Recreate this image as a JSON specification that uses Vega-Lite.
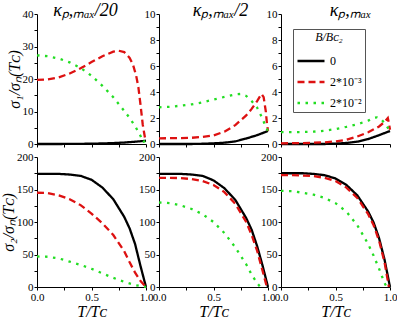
{
  "$schema": "https://vega.github.io/schema/vega-lite/v6.json",
  "background": "white",
  "padding": {"left": 0, "top": 2, "right": 0, "bottom": 0},
  "bounds": "flush",
  "spacing": {"row": 13, "column": 13},
  "columns": 3,
  "data": {
    "values": [
      {"p": "t1", "B": "0", "T": 0, "v": 0}, {"p": "t1", "B": "0", "T": 0.2, "v": 0}, {"p": "t1", "B": "0", "T": 0.3, "v": 0.02}, {"p": "t1", "B": "0", "T": 0.4, "v": 0.05}, {"p": "t1", "B": "0", "T": 0.5, "v": 0.1}, {"p": "t1", "B": "0", "T": 0.6, "v": 0.17}, {"p": "t1", "B": "0", "T": 0.7, "v": 0.28}, {"p": "t1", "B": "0", "T": 0.8, "v": 0.45}, {"p": "t1", "B": "0", "T": 0.9, "v": 0.7}, {"p": "t1", "B": "0", "T": 1, "v": 1},
      {"p": "t1", "B": "2*10⁻³", "T": 0, "v": 19.7}, {"p": "t1", "B": "2*10⁻³", "T": 0.1, "v": 19.9}, {"p": "t1", "B": "2*10⁻³", "T": 0.2, "v": 20.5}, {"p": "t1", "B": "2*10⁻³", "T": 0.3, "v": 21.7}, {"p": "t1", "B": "2*10⁻³", "T": 0.4, "v": 23.3}, {"p": "t1", "B": "2*10⁻³", "T": 0.5, "v": 25.2}, {"p": "t1", "B": "2*10⁻³", "T": 0.6, "v": 27}, {"p": "t1", "B": "2*10⁻³", "T": 0.7, "v": 28.4}, {"p": "t1", "B": "2*10⁻³", "T": 0.75, "v": 28.7}, {"p": "t1", "B": "2*10⁻³", "T": 0.8, "v": 28.3}, {"p": "t1", "B": "2*10⁻³", "T": 0.85, "v": 26.5}, {"p": "t1", "B": "2*10⁻³", "T": 0.88, "v": 24.5}, {"p": "t1", "B": "2*10⁻³", "T": 0.91, "v": 21}, {"p": "t1", "B": "2*10⁻³", "T": 0.93, "v": 17.5}, {"p": "t1", "B": "2*10⁻³", "T": 0.95, "v": 12}, {"p": "t1", "B": "2*10⁻³", "T": 0.97, "v": 6}, {"p": "t1", "B": "2*10⁻³", "T": 0.99, "v": 2}, {"p": "t1", "B": "2*10⁻³", "T": 1, "v": 1},
      {"p": "t1", "B": "2*10⁻²", "T": 0, "v": 27.3}, {"p": "t1", "B": "2*10⁻²", "T": 0.1, "v": 27}, {"p": "t1", "B": "2*10⁻²", "T": 0.2, "v": 26.3}, {"p": "t1", "B": "2*10⁻²", "T": 0.3, "v": 25.1}, {"p": "t1", "B": "2*10⁻²", "T": 0.4, "v": 23.4}, {"p": "t1", "B": "2*10⁻²", "T": 0.5, "v": 21}, {"p": "t1", "B": "2*10⁻²", "T": 0.6, "v": 17.9}, {"p": "t1", "B": "2*10⁻²", "T": 0.7, "v": 14.4}, {"p": "t1", "B": "2*10⁻²", "T": 0.8, "v": 10.2}, {"p": "t1", "B": "2*10⁻²", "T": 0.85, "v": 8}, {"p": "t1", "B": "2*10⁻²", "T": 0.9, "v": 5.5}, {"p": "t1", "B": "2*10⁻²", "T": 0.95, "v": 2.5}, {"p": "t1", "B": "2*10⁻²", "T": 0.97, "v": 0.6}, {"p": "t1", "B": "2*10⁻²", "T": 1, "v": 1},

      {"p": "t2", "B": "0", "T": 0, "v": 0}, {"p": "t2", "B": "0", "T": 0.3, "v": 0}, {"p": "t2", "B": "0", "T": 0.4, "v": 0.02}, {"p": "t2", "B": "0", "T": 0.5, "v": 0.05}, {"p": "t2", "B": "0", "T": 0.6, "v": 0.1}, {"p": "t2", "B": "0", "T": 0.7, "v": 0.2}, {"p": "t2", "B": "0", "T": 0.8, "v": 0.42}, {"p": "t2", "B": "0", "T": 0.9, "v": 0.68}, {"p": "t2", "B": "0", "T": 1, "v": 1},
      {"p": "t2", "B": "2*10⁻³", "T": 0, "v": 0.44}, {"p": "t2", "B": "2*10⁻³", "T": 0.2, "v": 0.45}, {"p": "t2", "B": "2*10⁻³", "T": 0.3, "v": 0.48}, {"p": "t2", "B": "2*10⁻³", "T": 0.4, "v": 0.55}, {"p": "t2", "B": "2*10⁻³", "T": 0.5, "v": 0.66}, {"p": "t2", "B": "2*10⁻³", "T": 0.6, "v": 0.95}, {"p": "t2", "B": "2*10⁻³", "T": 0.7, "v": 1.45}, {"p": "t2", "B": "2*10⁻³", "T": 0.8, "v": 2.2}, {"p": "t2", "B": "2*10⁻³", "T": 0.85, "v": 2.7}, {"p": "t2", "B": "2*10⁻³", "T": 0.9, "v": 3.3}, {"p": "t2", "B": "2*10⁻³", "T": 0.94, "v": 3.85}, {"p": "t2", "B": "2*10⁻³", "T": 0.96, "v": 3.6}, {"p": "t2", "B": "2*10⁻³", "T": 0.98, "v": 2.5}, {"p": "t2", "B": "2*10⁻³", "T": 0.99, "v": 1.6}, {"p": "t2", "B": "2*10⁻³", "T": 1, "v": 1},
      {"p": "t2", "B": "2*10⁻²", "T": 0, "v": 2.82}, {"p": "t2", "B": "2*10⁻²", "T": 0.1, "v": 2.86}, {"p": "t2", "B": "2*10⁻²", "T": 0.2, "v": 2.95}, {"p": "t2", "B": "2*10⁻²", "T": 0.3, "v": 3.05}, {"p": "t2", "B": "2*10⁻²", "T": 0.4, "v": 3.2}, {"p": "t2", "B": "2*10⁻²", "T": 0.5, "v": 3.42}, {"p": "t2", "B": "2*10⁻²", "T": 0.6, "v": 3.62}, {"p": "t2", "B": "2*10⁻²", "T": 0.7, "v": 3.82}, {"p": "t2", "B": "2*10⁻²", "T": 0.75, "v": 3.85}, {"p": "t2", "B": "2*10⁻²", "T": 0.8, "v": 3.7}, {"p": "t2", "B": "2*10⁻²", "T": 0.85, "v": 3.3}, {"p": "t2", "B": "2*10⁻²", "T": 0.9, "v": 2.8}, {"p": "t2", "B": "2*10⁻²", "T": 0.95, "v": 1.95}, {"p": "t2", "B": "2*10⁻²", "T": 0.98, "v": 1.3}, {"p": "t2", "B": "2*10⁻²", "T": 1, "v": 1},

      {"p": "t3", "B": "0", "T": 0, "v": 0}, {"p": "t3", "B": "0", "T": 0.4, "v": 0}, {"p": "t3", "B": "0", "T": 0.5, "v": 0.03}, {"p": "t3", "B": "0", "T": 0.6, "v": 0.08}, {"p": "t3", "B": "0", "T": 0.7, "v": 0.18}, {"p": "t3", "B": "0", "T": 0.8, "v": 0.38}, {"p": "t3", "B": "0", "T": 0.9, "v": 0.68}, {"p": "t3", "B": "0", "T": 1, "v": 1},
      {"p": "t3", "B": "2*10⁻³", "T": 0, "v": 0.05}, {"p": "t3", "B": "2*10⁻³", "T": 0.2, "v": 0.07}, {"p": "t3", "B": "2*10⁻³", "T": 0.4, "v": 0.13}, {"p": "t3", "B": "2*10⁻³", "T": 0.5, "v": 0.2}, {"p": "t3", "B": "2*10⁻³", "T": 0.6, "v": 0.32}, {"p": "t3", "B": "2*10⁻³", "T": 0.7, "v": 0.58}, {"p": "t3", "B": "2*10⁻³", "T": 0.8, "v": 0.9}, {"p": "t3", "B": "2*10⁻³", "T": 0.9, "v": 1.35}, {"p": "t3", "B": "2*10⁻³", "T": 0.95, "v": 1.7}, {"p": "t3", "B": "2*10⁻³", "T": 0.98, "v": 2}, {"p": "t3", "B": "2*10⁻³", "T": 0.99, "v": 1.6}, {"p": "t3", "B": "2*10⁻³", "T": 1, "v": 1.1},
      {"p": "t3", "B": "2*10⁻²", "T": 0, "v": 0.92}, {"p": "t3", "B": "2*10⁻²", "T": 0.2, "v": 0.92}, {"p": "t3", "B": "2*10⁻²", "T": 0.3, "v": 0.95}, {"p": "t3", "B": "2*10⁻²", "T": 0.4, "v": 1.02}, {"p": "t3", "B": "2*10⁻²", "T": 0.5, "v": 1.15}, {"p": "t3", "B": "2*10⁻²", "T": 0.6, "v": 1.32}, {"p": "t3", "B": "2*10⁻²", "T": 0.7, "v": 1.52}, {"p": "t3", "B": "2*10⁻²", "T": 0.8, "v": 1.8}, {"p": "t3", "B": "2*10⁻²", "T": 0.85, "v": 2.02}, {"p": "t3", "B": "2*10⁻²", "T": 0.88, "v": 2.05}, {"p": "t3", "B": "2*10⁻²", "T": 0.92, "v": 1.9}, {"p": "t3", "B": "2*10⁻²", "T": 0.96, "v": 1.5}, {"p": "t3", "B": "2*10⁻²", "T": 1, "v": 1},

      {"p": "b1", "B": "0", "T": 0, "v": 174}, {"p": "b1", "B": "0", "T": 0.1, "v": 174}, {"p": "b1", "B": "0", "T": 0.2, "v": 174}, {"p": "b1", "B": "0", "T": 0.3, "v": 173}, {"p": "b1", "B": "0", "T": 0.4, "v": 171}, {"p": "b1", "B": "0", "T": 0.5, "v": 165}, {"p": "b1", "B": "0", "T": 0.6, "v": 153}, {"p": "b1", "B": "0", "T": 0.7, "v": 135}, {"p": "b1", "B": "0", "T": 0.8, "v": 108}, {"p": "b1", "B": "0", "T": 0.85, "v": 90}, {"p": "b1", "B": "0", "T": 0.9, "v": 66}, {"p": "b1", "B": "0", "T": 0.95, "v": 32}, {"p": "b1", "B": "0", "T": 1, "v": 0},
      {"p": "b1", "B": "2*10⁻³", "T": 0, "v": 145}, {"p": "b1", "B": "2*10⁻³", "T": 0.1, "v": 144.5}, {"p": "b1", "B": "2*10⁻³", "T": 0.2, "v": 141}, {"p": "b1", "B": "2*10⁻³", "T": 0.3, "v": 135}, {"p": "b1", "B": "2*10⁻³", "T": 0.4, "v": 126}, {"p": "b1", "B": "2*10⁻³", "T": 0.5, "v": 113}, {"p": "b1", "B": "2*10⁻³", "T": 0.6, "v": 98}, {"p": "b1", "B": "2*10⁻³", "T": 0.7, "v": 80}, {"p": "b1", "B": "2*10⁻³", "T": 0.8, "v": 55}, {"p": "b1", "B": "2*10⁻³", "T": 0.85, "v": 38}, {"p": "b1", "B": "2*10⁻³", "T": 0.9, "v": 22}, {"p": "b1", "B": "2*10⁻³", "T": 0.95, "v": 9}, {"p": "b1", "B": "2*10⁻³", "T": 1, "v": 0},
      {"p": "b1", "B": "2*10⁻²", "T": 0, "v": 47}, {"p": "b1", "B": "2*10⁻²", "T": 0.1, "v": 46.5}, {"p": "b1", "B": "2*10⁻²", "T": 0.2, "v": 44}, {"p": "b1", "B": "2*10⁻²", "T": 0.3, "v": 39}, {"p": "b1", "B": "2*10⁻²", "T": 0.4, "v": 34}, {"p": "b1", "B": "2*10⁻²", "T": 0.5, "v": 28}, {"p": "b1", "B": "2*10⁻²", "T": 0.6, "v": 21}, {"p": "b1", "B": "2*10⁻²", "T": 0.7, "v": 14}, {"p": "b1", "B": "2*10⁻²", "T": 0.8, "v": 8}, {"p": "b1", "B": "2*10⁻²", "T": 0.9, "v": 3}, {"p": "b1", "B": "2*10⁻²", "T": 1, "v": 0},

      {"p": "b2", "B": "0", "T": 0, "v": 174}, {"p": "b2", "B": "0", "T": 0.1, "v": 174}, {"p": "b2", "B": "0", "T": 0.2, "v": 174}, {"p": "b2", "B": "0", "T": 0.3, "v": 173}, {"p": "b2", "B": "0", "T": 0.4, "v": 171}, {"p": "b2", "B": "0", "T": 0.5, "v": 164}, {"p": "b2", "B": "0", "T": 0.6, "v": 152}, {"p": "b2", "B": "0", "T": 0.7, "v": 134}, {"p": "b2", "B": "0", "T": 0.8, "v": 106}, {"p": "b2", "B": "0", "T": 0.85, "v": 88}, {"p": "b2", "B": "0", "T": 0.9, "v": 63}, {"p": "b2", "B": "0", "T": 0.95, "v": 33}, {"p": "b2", "B": "0", "T": 1, "v": 0},
      {"p": "b2", "B": "2*10⁻³", "T": 0, "v": 168}, {"p": "b2", "B": "2*10⁻³", "T": 0.1, "v": 168}, {"p": "b2", "B": "2*10⁻³", "T": 0.2, "v": 167.5}, {"p": "b2", "B": "2*10⁻³", "T": 0.3, "v": 166}, {"p": "b2", "B": "2*10⁻³", "T": 0.4, "v": 163}, {"p": "b2", "B": "2*10⁻³", "T": 0.5, "v": 157}, {"p": "b2", "B": "2*10⁻³", "T": 0.6, "v": 146}, {"p": "b2", "B": "2*10⁻³", "T": 0.7, "v": 128}, {"p": "b2", "B": "2*10⁻³", "T": 0.8, "v": 100}, {"p": "b2", "B": "2*10⁻³", "T": 0.85, "v": 80}, {"p": "b2", "B": "2*10⁻³", "T": 0.9, "v": 56}, {"p": "b2", "B": "2*10⁻³", "T": 0.95, "v": 25}, {"p": "b2", "B": "2*10⁻³", "T": 0.99, "v": 0},
      {"p": "b2", "B": "2*10⁻²", "T": 0, "v": 130}, {"p": "b2", "B": "2*10⁻²", "T": 0.1, "v": 129}, {"p": "b2", "B": "2*10⁻²", "T": 0.2, "v": 125.5}, {"p": "b2", "B": "2*10⁻²", "T": 0.3, "v": 120}, {"p": "b2", "B": "2*10⁻²", "T": 0.4, "v": 112}, {"p": "b2", "B": "2*10⁻²", "T": 0.5, "v": 100}, {"p": "b2", "B": "2*10⁻²", "T": 0.6, "v": 83}, {"p": "b2", "B": "2*10⁻²", "T": 0.7, "v": 61}, {"p": "b2", "B": "2*10⁻²", "T": 0.8, "v": 35}, {"p": "b2", "B": "2*10⁻²", "T": 0.85, "v": 19}, {"p": "b2", "B": "2*10⁻²", "T": 0.9, "v": 6}, {"p": "b2", "B": "2*10⁻²", "T": 0.93, "v": 0},

      {"p": "b3", "B": "0", "T": 0, "v": 175}, {"p": "b3", "B": "0", "T": 0.1, "v": 175}, {"p": "b3", "B": "0", "T": 0.2, "v": 175}, {"p": "b3", "B": "0", "T": 0.3, "v": 174}, {"p": "b3", "B": "0", "T": 0.4, "v": 172}, {"p": "b3", "B": "0", "T": 0.5, "v": 167}, {"p": "b3", "B": "0", "T": 0.6, "v": 157}, {"p": "b3", "B": "0", "T": 0.7, "v": 141}, {"p": "b3", "B": "0", "T": 0.8, "v": 116}, {"p": "b3", "B": "0", "T": 0.85, "v": 99}, {"p": "b3", "B": "0", "T": 0.9, "v": 75}, {"p": "b3", "B": "0", "T": 0.95, "v": 42}, {"p": "b3", "B": "0", "T": 1, "v": 0},
      {"p": "b3", "B": "2*10⁻³", "T": 0, "v": 172}, {"p": "b3", "B": "2*10⁻³", "T": 0.1, "v": 172}, {"p": "b3", "B": "2*10⁻³", "T": 0.2, "v": 171.5}, {"p": "b3", "B": "2*10⁻³", "T": 0.3, "v": 170.5}, {"p": "b3", "B": "2*10⁻³", "T": 0.4, "v": 168}, {"p": "b3", "B": "2*10⁻³", "T": 0.5, "v": 163}, {"p": "b3", "B": "2*10⁻³", "T": 0.6, "v": 153}, {"p": "b3", "B": "2*10⁻³", "T": 0.7, "v": 137}, {"p": "b3", "B": "2*10⁻³", "T": 0.8, "v": 112}, {"p": "b3", "B": "2*10⁻³", "T": 0.85, "v": 95}, {"p": "b3", "B": "2*10⁻³", "T": 0.9, "v": 71}, {"p": "b3", "B": "2*10⁻³", "T": 0.95, "v": 38}, {"p": "b3", "B": "2*10⁻³", "T": 0.99, "v": 0},
      {"p": "b3", "B": "2*10⁻²", "T": 0, "v": 148}, {"p": "b3", "B": "2*10⁻²", "T": 0.1, "v": 147.5}, {"p": "b3", "B": "2*10⁻²", "T": 0.2, "v": 145}, {"p": "b3", "B": "2*10⁻²", "T": 0.3, "v": 142}, {"p": "b3", "B": "2*10⁻²", "T": 0.4, "v": 137}, {"p": "b3", "B": "2*10⁻²", "T": 0.5, "v": 129}, {"p": "b3", "B": "2*10⁻²", "T": 0.6, "v": 116}, {"p": "b3", "B": "2*10⁻²", "T": 0.7, "v": 95}, {"p": "b3", "B": "2*10⁻²", "T": 0.8, "v": 66}, {"p": "b3", "B": "2*10⁻²", "T": 0.85, "v": 48}, {"p": "b3", "B": "2*10⁻²", "T": 0.9, "v": 28}, {"p": "b3", "B": "2*10⁻²", "T": 0.95, "v": 6}, {"p": "b3", "B": "2*10⁻²", "T": 0.97, "v": 0}
    ]
  },
  "resolve": {"scale": {"color": "shared", "strokeDash": "shared"}},
  "config": {
    "view": {"stroke": null},
    "font": "Liberation Serif, Times New Roman, serif",
    "axis": {
      "grid": false, "domainColor": "black", "tickColor": "black", "labelColor": "black",
      "labelFont": "Liberation Serif, Times New Roman, serif", "labelFontSize": 11, "tickSize": 3, "labelPadding": 1,
      "titleFont": "Liberation Serif, Times New Roman, serif", "titleFontSize": 16, "titleFontStyle": "italic",
      "titleFontWeight": "normal", "titleColor": "black"
    },
    "axisX": {"format": ".1f", "labelFlush": false, "titlePadding": 1},
    "axisY": {"titlePadding": 0},
    "title": {"font": "Liberation Serif, Times New Roman, serif", "fontSize": 18, "fontStyle": "italic", "fontWeight": "normal", "color": "black", "offset": -12},
    "line": {"strokeWidth": 2.3, "strokeCap": "butt"},
    "legend": {
      "orient": "none", "legendX": 256, "legendY": 15, "fillColor": "white", "strokeColor": "#555",
      "padding": 3, "titleFont": "Liberation Serif, Times New Roman, serif", "titleFontStyle": "italic", "titleFontWeight": "normal",
      "titleFontSize": 12, "titleColor": "black", "titleAnchor": "middle", "titlePadding": 2, "labelFont": "Liberation Serif, Times New Roman, serif",
      "labelFontSize": 12, "labelColor": "black", "symbolType": "stroke", "symbolSize": 729,
      "symbolStrokeWidth": 2.3, "rowPadding": -10, "labelOffset": 4
    }
  },
  "concat": [
    {
      "width": 109, "height": 130,
      "title": {"text": "κₚ,ₘₐₓ/20", "dx": -6},
      "transform": [{"filter": "datum.p === 't1'"}],
      "mark": {"type": "line"},
      "encoding": {
        "x": {"field": "T", "type": "quantitative", "scale": {"domain": [0, 1]}, "axis": {"values": [0, 0.25, 0.5, 0.75, 1], "labels": false, "title": null}},
        "y": {"field": "v", "type": "quantitative", "scale": {"domain": [0, 40]}, "axis": {"values": [0, 5, 10, 15, 20, 25, 30, 35, 40], "labelExpr": "datum.value % 10 === 0 ? datum.label : ''", "title": "σ₁/σₙ(Tᴄ)"}},
        "color": {"field": "B", "type": "nominal", "title": "B/Bᴄ₂", "scale": {"domain": ["0", "2*10⁻³", "2*10⁻²"], "range": ["#000000", "#dd1111", "#22dd22"]}},
        "strokeDash": {"field": "B", "type": "nominal", "title": "B/Bᴄ₂", "scale": {"domain": ["0", "2*10⁻³", "2*10⁻²"], "range": [[1, 0], [7, 4], [2.5, 5.5]]}}
      }
    },
    {
      "width": 109, "height": 130,
      "title": {"text": "κₚ,ₘₐₓ/2", "dx": 7},
      "transform": [{"filter": "datum.p === 't2'"}],
      "mark": {"type": "line"},
      "encoding": {
        "x": {"field": "T", "type": "quantitative", "scale": {"domain": [0, 1]}, "axis": {"values": [0, 0.25, 0.5, 0.75, 1], "labels": false, "title": null}},
        "y": {"field": "v", "type": "quantitative", "scale": {"domain": [0, 10]}, "axis": {"values": [0, 1, 2, 3, 4, 5, 6, 7, 8, 9, 10], "labelExpr": "datum.value % 2 === 0 ? datum.label : ''", "title": null}},
        "color": {"field": "B", "type": "nominal", "title": "B/Bᴄ₂", "scale": {"domain": ["0", "2*10⁻³", "2*10⁻²"], "range": ["#000000", "#dd1111", "#22dd22"]}},
        "strokeDash": {"field": "B", "type": "nominal", "title": "B/Bᴄ₂", "scale": {"domain": ["0", "2*10⁻³", "2*10⁻²"], "range": [[1, 0], [7, 4], [2.5, 5.5]]}}
      }
    },
    {
      "width": 109, "height": 130,
      "title": {"text": "κₚ,ₘₐₓ", "dx": 15},
      "transform": [{"filter": "datum.p === 't3'"}],
      "mark": {"type": "line"},
      "encoding": {
        "x": {"field": "T", "type": "quantitative", "scale": {"domain": [0, 1]}, "axis": {"values": [0, 0.25, 0.5, 0.75, 1], "labels": false, "title": null}},
        "y": {"field": "v", "type": "quantitative", "scale": {"domain": [0, 10]}, "axis": {"values": [0, 1, 2, 3, 4, 5, 6, 7, 8, 9, 10], "labelExpr": "datum.value % 2 === 0 ? datum.label : ''", "title": null}},
        "color": {"field": "B", "type": "nominal", "title": "B/Bᴄ₂", "scale": {"domain": ["0", "2*10⁻³", "2*10⁻²"], "range": ["#000000", "#dd1111", "#22dd22"]}},
        "strokeDash": {"field": "B", "type": "nominal", "title": "B/Bᴄ₂", "scale": {"domain": ["0", "2*10⁻³", "2*10⁻²"], "range": [[1, 0], [7, 4], [2.5, 5.5]]}}
      }
    },
    {
      "width": 109, "height": 130,
      "transform": [{"filter": "datum.p === 'b1'"}],
      "mark": {"type": "line"},
      "encoding": {
        "x": {"field": "T", "type": "quantitative", "scale": {"domain": [0, 1]}, "axis": {"values": [0, 0.25, 0.5, 0.75, 1], "labelExpr": "datum.value === 0.25 || datum.value === 0.75 ? '' : datum.label", "title": "T/Tᴄ"}},
        "y": {"field": "v", "type": "quantitative", "scale": {"domain": [0, 200]}, "axis": {"values": [0, 25, 50, 75, 100, 125, 150, 175, 200], "labelExpr": "datum.value % 50 === 0 ? datum.label : ''", "title": "σ₂/σₙ(Tᴄ)"}},
        "color": {"field": "B", "type": "nominal", "title": "B/Bᴄ₂", "scale": {"domain": ["0", "2*10⁻³", "2*10⁻²"], "range": ["#000000", "#dd1111", "#22dd22"]}},
        "strokeDash": {"field": "B", "type": "nominal", "title": "B/Bᴄ₂", "scale": {"domain": ["0", "2*10⁻³", "2*10⁻²"], "range": [[1, 0], [7, 4], [2.5, 5.5]]}}
      }
    },
    {
      "width": 109, "height": 130,
      "transform": [{"filter": "datum.p === 'b2'"}],
      "mark": {"type": "line"},
      "encoding": {
        "x": {"field": "T", "type": "quantitative", "scale": {"domain": [0, 1]}, "axis": {"values": [0, 0.25, 0.5, 0.75, 1], "labelExpr": "datum.value === 0.25 || datum.value === 0.75 ? '' : datum.label", "title": "T/Tᴄ"}},
        "y": {"field": "v", "type": "quantitative", "scale": {"domain": [0, 200]}, "axis": {"values": [0, 25, 50, 75, 100, 125, 150, 175, 200], "labelExpr": "datum.value % 50 === 0 ? datum.label : ''", "title": null}},
        "color": {"field": "B", "type": "nominal", "title": "B/Bᴄ₂", "scale": {"domain": ["0", "2*10⁻³", "2*10⁻²"], "range": ["#000000", "#dd1111", "#22dd22"]}},
        "strokeDash": {"field": "B", "type": "nominal", "title": "B/Bᴄ₂", "scale": {"domain": ["0", "2*10⁻³", "2*10⁻²"], "range": [[1, 0], [7, 4], [2.5, 5.5]]}}
      }
    },
    {
      "width": 109, "height": 130,
      "transform": [{"filter": "datum.p === 'b3'"}],
      "mark": {"type": "line"},
      "encoding": {
        "x": {"field": "T", "type": "quantitative", "scale": {"domain": [0, 1]}, "axis": {"values": [0, 0.25, 0.5, 0.75, 1], "labelExpr": "datum.value === 0.25 || datum.value === 0.75 ? '' : datum.label", "title": "T/Tᴄ"}},
        "y": {"field": "v", "type": "quantitative", "scale": {"domain": [0, 200]}, "axis": {"values": [0, 25, 50, 75, 100, 125, 150, 175, 200], "labelExpr": "datum.value % 50 === 0 ? datum.label : ''", "title": null}},
        "color": {"field": "B", "type": "nominal", "title": "B/Bᴄ₂", "scale": {"domain": ["0", "2*10⁻³", "2*10⁻²"], "range": ["#000000", "#dd1111", "#22dd22"]}},
        "strokeDash": {"field": "B", "type": "nominal", "title": "B/Bᴄ₂", "scale": {"domain": ["0", "2*10⁻³", "2*10⁻²"], "range": [[1, 0], [7, 4], [2.5, 5.5]]}}
      }
    }
  ]
}
